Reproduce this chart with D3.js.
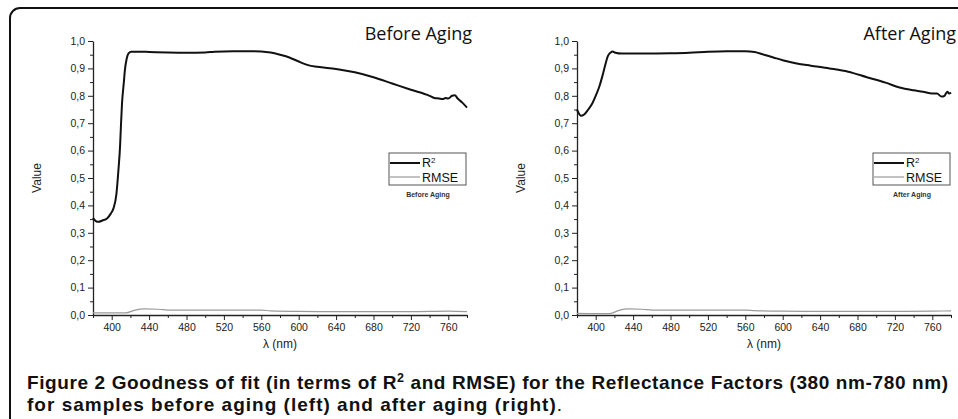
<!DOCTYPE html>
<html>
<head>
<meta charset="utf-8">
<script src="https://cdn.jsdelivr.net/npm/d3@7/dist/d3.min.js"></script>
<style>
  body { margin: 0; background: #fff; }
  svg { display: block; }
  .tick text { font-family: "Liberation Sans", Arial, sans-serif; font-size: 10.5px; fill: #222; }
</style>
</head>
<body>
<div id="fig"></div>
<script>
//Data (wavelength in nm, value)
var beforeNm = [380, 383, 386, 390, 395, 399, 402, 405, 407, 409, 410, 411, 413, 414, 416, 418, 421, 430, 440, 460, 480, 500, 510, 530, 550, 560, 570, 580, 590, 600, 610, 620, 640, 660, 680, 700, 720, 740, 745, 750, 754, 757, 760, 764, 767, 770, 775, 780];
var beforeR2 = [0.355, 0.343, 0.340, 0.345, 0.352, 0.370, 0.390, 0.440, 0.520, 0.620, 0.700, 0.770, 0.850, 0.890, 0.935, 0.955, 0.961, 0.961, 0.960, 0.958, 0.957, 0.958, 0.961, 0.963, 0.963, 0.962, 0.958, 0.950, 0.940, 0.925, 0.912, 0.906, 0.898, 0.886, 0.868, 0.845, 0.822, 0.800, 0.792, 0.790, 0.788, 0.792, 0.790, 0.800, 0.802, 0.790, 0.775, 0.757];

var afterNm = [380, 382, 384, 388, 392, 396, 400, 404, 407, 410, 413, 416, 418, 421, 428, 450, 480, 500, 520, 540, 560, 570, 580, 590, 600, 615, 630, 650, 670, 690, 710, 725, 740, 750, 760, 765, 770, 773, 776, 778, 780];
var afterR2 = [0.750, 0.735, 0.727, 0.733, 0.750, 0.770, 0.800, 0.835, 0.870, 0.910, 0.945, 0.958, 0.962, 0.957, 0.954, 0.954, 0.955, 0.957, 0.961, 0.963, 0.963, 0.960, 0.950, 0.940, 0.930, 0.918, 0.910, 0.900, 0.888, 0.868, 0.848, 0.830, 0.820, 0.815, 0.808, 0.808, 0.797, 0.800, 0.815, 0.808, 0.812];

var rmseNm = [380, 400, 415, 425, 435, 450, 460, 500, 560, 570, 600, 680, 720, 760, 780];
var beforeRmse = [0.008, 0.008, 0.008, 0.018, 0.022, 0.021, 0.018, 0.018, 0.018, 0.015, 0.013, 0.012, 0.012, 0.014, 0.012];
var afterRmse = [0.006, 0.005, 0.005, 0.017, 0.022, 0.021, 0.018, 0.018, 0.018, 0.016, 0.014, 0.013, 0.013, 0.014, 0.015];

var xTicks = [400, 440, 480, 520, 560, 600, 640, 680, 720, 760];
var xMinor = [380, 420, 460, 500, 540, 580, 620, 660, 700, 740, 780];
var yTicks = [0, 0.1, 0.2, 0.3, 0.4, 0.5, 0.6, 0.7, 0.8, 0.9, 1.0];
var yMinor = [0.05, 0.15, 0.25, 0.35, 0.45, 0.55, 0.65, 0.75, 0.85, 0.95];

var panels = [
	{title: "Before Aging", nm: beforeNm, r2: beforeR2, rmse: beforeRmse, x0: 93, x1: 467},
	{title: "After Aging", nm: afterNm, r2: afterR2, rmse: afterRmse, x0: 577, x1: 951}
];

var W = 958, H = 419;
var yTop = 41, yBot = 315;

var svg = d3.select("#fig").append("svg")
	.attr("width", W).attr("height", H);

//Outer rounded frame, runs off the right and bottom edges
svg.append("rect")
	.attr("x", 10).attr("y", 8)
	.attr("width", 1000).attr("height", 500)
	.attr("rx", 10)
	.attr("fill", "none").attr("stroke", "#111").attr("stroke-width", 2);

var fmt = function(d) { return d3.format(".1f")(d).replace(".", ","); };

panels.forEach(function(p) {
	var x = d3.scaleLinear().domain([380, 780]).range([p.x0, p.x1]);
	var y = d3.scaleLinear().domain([0, 1]).range([yBot, yTop]);
	var g = svg.append("g");

	//minor ticks first
	g.append("g").attr("transform", "translate(0," + yBot + ")")
		.call(d3.axisBottom(x).tickValues(xMinor).tickSize(3).tickSizeOuter(0).tickFormat(""))
		.call(function(s) { s.select(".domain").remove(); });
	g.append("g").attr("transform", "translate(" + p.x0 + ",0)")
		.call(d3.axisLeft(y).tickValues(yMinor).tickSize(3).tickSizeOuter(0).tickFormat(""))
		.call(function(s) { s.select(".domain").remove(); });

	//major axes
	g.append("g").attr("transform", "translate(0," + yBot + ")")
		.call(d3.axisBottom(x).tickValues(xTicks).tickSize(5).tickSizeOuter(0).tickPadding(4));
	g.append("g").attr("transform", "translate(" + p.x0 + ",0)")
		.call(d3.axisLeft(y).tickValues(yTicks).tickSize(5).tickSizeOuter(0).tickPadding(3).tickFormat(fmt));

	g.selectAll(".domain").attr("stroke", "#222").attr("stroke-width", 1.3);
	g.selectAll(".tick line").attr("stroke", "#222");

	//axis titles
	g.append("text")
		.attr("x", (p.x0 + p.x1) / 2).attr("y", 348)
		.attr("text-anchor", "middle")
		.style("font-family", "Liberation Sans, Arial, sans-serif").style("font-size", "12px").attr("fill", "#222")
		.text("λ (nm)");
	g.append("text")
		.attr("transform", "translate(" + (p.x0 - 52) + "," + ((yTop + yBot) / 2) + ") rotate(-90)")
		.attr("text-anchor", "middle")
		.style("font-family", "Liberation Sans, Arial, sans-serif").style("font-size", "12px").attr("fill", "#222")
		.text("Value");

	//curves
	var line = function(vals, nm) {
		return d3.line()
			.x(function(d, i) { return x(nm[i]); })
			.y(function(d) { return y(d); })
			.curve(d3.curveMonotoneX)(vals);
	};
	g.append("path").attr("d", line(p.rmse, rmseNm))
		.attr("fill", "none").attr("stroke", "#9a9a9a").attr("stroke-width", 1.2);
	g.append("path").attr("d", line(p.r2, p.nm))
		.attr("fill", "none").attr("stroke", "#111").attr("stroke-width", 2);

	//panel title
	g.append("text")
		.attr("x", p.x1 + 5).attr("y", 40)
		.attr("text-anchor", "end")
		.style("font-family", "Open Sans, sans-serif").style("font-size", "18px").attr("fill", "#111")
		.text(p.title);

	//legend
	var lx = p.x1 - 78, ly = 153;
	var leg = g.append("g").attr("transform", "translate(" + lx + "," + ly + ")");
	leg.append("rect").attr("width", 77).attr("height", 32)
		.attr("fill", "#fff").attr("stroke", "#555").attr("stroke-width", 1);
	leg.append("line").attr("x1", 1).attr("x2", 31).attr("y1", 10).attr("y2", 10)
		.attr("stroke", "#111").attr("stroke-width", 2);
	leg.append("line").attr("x1", 1).attr("x2", 31).attr("y1", 24).attr("y2", 24)
		.attr("stroke", "#9a9a9a").attr("stroke-width", 1.2);
	var lt = leg.append("text").attr("x", 33).attr("y", 14)
		.style("font-family", "Liberation Sans, Arial, sans-serif").style("font-size", "12.5px").attr("fill", "#111");
	lt.append("tspan").text("R");
	lt.append("tspan").attr("dy", -4).style("font-size", "8px").text("2");
	leg.append("text").attr("x", 33).attr("y", 29)
		.style("font-family", "Liberation Sans, Arial, sans-serif").style("font-size", "12.5px").attr("fill", "#111")
		.text("RMSE");
	leg.append("text").attr("x", 39).attr("y", 44)
		.attr("text-anchor", "middle")
		.style("font-family", "Liberation Sans, Arial, sans-serif").style("font-size", "7px").style("font-weight", "bold").attr("fill", "#333")
		.text(p.title);
});

//Caption
var cap = svg.append("text")
	.attr("x", 27).attr("y", 389)
	.attr("textLength", 921).attr("lengthAdjust", "spacing")
	.style("font-family", "Liberation Sans, Arial, sans-serif").style("font-size", "19px").attr("fill", "#111");
cap.append("tspan").style("font-weight", "bold").text("Figure 2 ");
cap.append("tspan").style("font-weight", "bold").text("Goodness of fit (in terms of R");
cap.append("tspan").style("font-weight", "bold").style("font-size", "12.5px").attr("dy", -7).text("2");
cap.append("tspan").style("font-weight", "bold").attr("dy", 7).text(" and RMSE) for the Reflectance Factors (380 nm-780 nm)");

var cap2 = svg.append("text")
	.attr("x", 27).attr("y", 411)
	.attr("textLength", 535).attr("lengthAdjust", "spacing")
	.style("font-family", "Liberation Sans, Arial, sans-serif").style("font-size", "19px").attr("fill", "#111");
cap2.append("tspan").style("font-weight", "bold").text("for samples before aging (left) and after aging (right)");
cap2.append("tspan").text(".");
</script>
</body>
</html>
